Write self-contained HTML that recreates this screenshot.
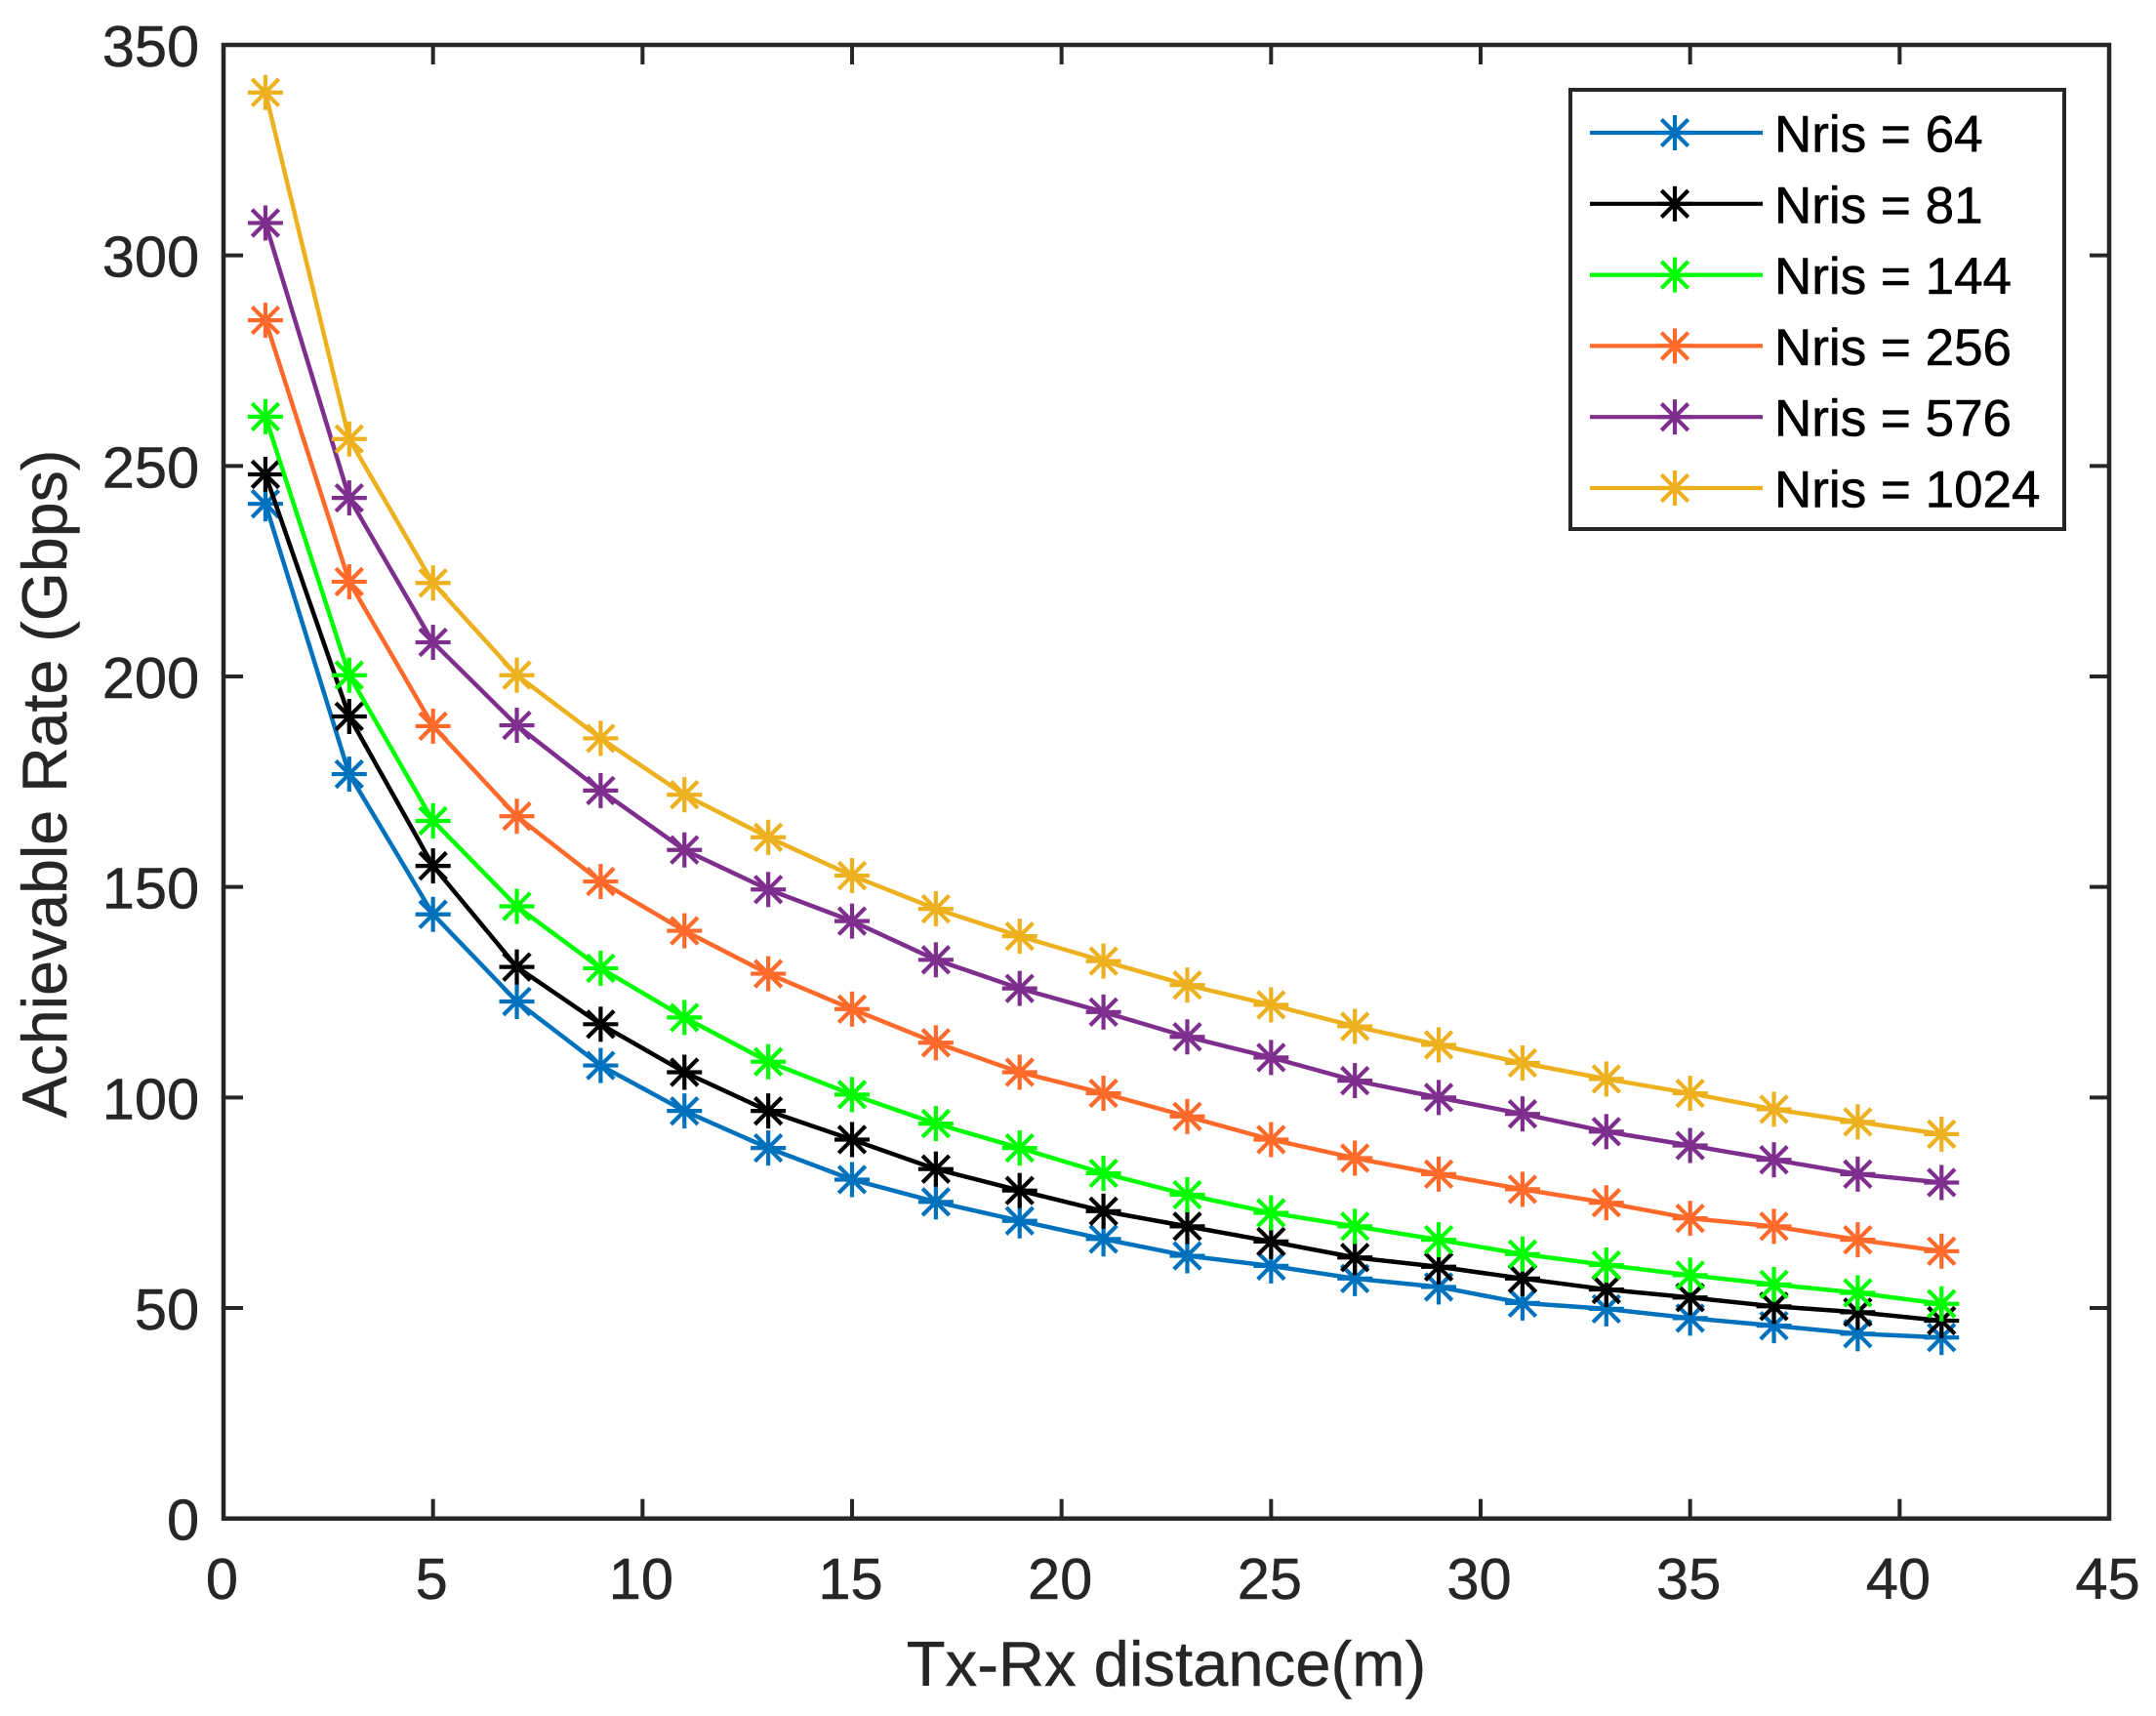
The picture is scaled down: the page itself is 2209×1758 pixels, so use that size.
<!DOCTYPE html>
<html lang="en">
<head>
<meta charset="utf-8">
<title>Achievable Rate vs Tx-Rx distance</title>
<style>
html,body{margin:0;padding:0;background:#fff;}
svg{display:block;font-family:"Liberation Sans",Arial,sans-serif;}
</style>
</head>
<body>
<svg id="chart" xmlns="http://www.w3.org/2000/svg" width="2209" height="1758" viewBox="0 0 2209 1758"></svg>
<script>
const distances = [1,3,5,7,9,11,13,15,17,19,21,23,25,27,29,31,33,35,37,39,41];
const nris64 = [241,176.8,143.5,122.8,107.6,96.8,88,80.5,75.2,70.7,66.4,62.4,60,57,55,51.2,49.8,47.6,45.8,43.9,43];
const nris81 = [248,190.5,155,131,117.4,106,96.8,90,83,77.9,73,69.4,65.8,62,59.8,57,54.4,52.5,50.4,49,47];
const nris144 = [261.7,200.3,165.7,145.4,130.7,119,108.5,100.7,93.8,88,82,76.9,72.6,69.4,66.2,62.8,60.2,57.8,55.6,53.6,51];
const nris256 = [284.6,222.5,188.2,166.8,151.3,139.6,129.4,121,113,106,101,95.5,90,85.6,81.8,78.2,75,71.3,69.4,66.2,63.5];
const nris576 = [307.7,242.4,208.1,188.4,172.9,158.8,149.4,141.9,132.7,125.9,120.3,114.4,109.5,104,100,96.1,91.9,88.6,85.2,81.8,79.8];
const nris1024 = [338.7,256.4,222.2,200.3,185.3,171.9,161.8,152.7,144.8,138.3,132.4,126.7,122,116.9,112.5,108.2,104.4,101,97.2,94.2,91.3];
const seriesLabels = ["Nris = 64","Nris = 81","Nris = 144","Nris = 256","Nris = 576","Nris = 1024"];
const seriesColors = ["#0072BD","#000000","#00FF00","#FF6A2B","#7E2F8E","#EDB120"];
const xTickValues = [0,5,10,15,20,25,30,35,40,45];
const yTickValues = [0,50,100,150,200,250,300,350];
const xAxisTitle = "Tx-Rx distance(m)";
const yAxisTitle = "Achievable Rate (Gbps)";

const allSeries = [nris64,nris81,nris144,nris256,nris576,nris1024];
const plot = {left:229,right:2161,top:46,bottom:1555.7};
const xMax = 45, yMax = 350;
const NS = "http://www.w3.org/2000/svg";
const svg = document.getElementById("chart");
const axisColor = "#262626";

function xScale(v){ return plot.left + (v/xMax)*(plot.right-plot.left); }
function yScale(v){ return plot.bottom - (v/yMax)*(plot.bottom-plot.top); }
function make(tag, attrs, parent){
  const el = document.createElementNS(NS, tag);
  for (const k in attrs) el.setAttribute(k, attrs[k]);
  (parent||svg).appendChild(el);
  return el;
}
function drawMarker(parent, cx, cy, color){
  const g = make("g", {stroke:color,"stroke-width":4.2,fill:"none"}, parent);
  make("line",{x1:cx-18,y1:cy,x2:cx+18,y2:cy},g);
  make("line",{x1:cx,y1:cy-18,x2:cx,y2:cy+18},g);
  make("line",{x1:cx-13.7,y1:cy-13.7,x2:cx+13.7,y2:cy+13.7},g);
  make("line",{x1:cx-13.7,y1:cy+13.7,x2:cx+13.7,y2:cy-13.7},g);
  return g;
}

// Axes ticks
const ticks = make("g",{stroke:axisColor,"stroke-width":4,fill:"none"});


xTickValues.forEach(function(v){
  const x = xScale(v);
  make("line",{x1:x,y1:plot.bottom,x2:x,y2:plot.bottom-20},ticks);
  make("line",{x1:x,y1:plot.top,x2:x,y2:plot.top+20},ticks);
});
yTickValues.forEach(function(v){
  const y = yScale(v);
  make("line",{x1:plot.left,y1:y,x2:plot.left+20,y2:y},ticks);
  make("line",{x1:plot.right,y1:y,x2:plot.right-20,y2:y},ticks);
});

// Series
allSeries.forEach(function(values, s){
  const g = make("g",{});
  
  
  const pts = values.map(function(v,i){ return xScale(distances[i]).toFixed(2)+","+yScale(v).toFixed(2); }).join(" ");
  const line = make("polyline",{points:pts,fill:"none",stroke:seriesColors[s],"stroke-width":4.5,"stroke-linejoin":"round"},g);
  
  
  values.forEach(function(v,i){
    const m = drawMarker(g, xScale(distances[i]), yScale(v), seriesColors[s]);
    
    
  });
});

// Plot frame
const frame = make("rect",{x:plot.left,y:plot.top,width:plot.right-plot.left,height:plot.bottom-plot.top,fill:"none",stroke:axisColor,"stroke-width":4.5});



// Tick labels
xTickValues.forEach(function(v){
  const t = make("text",{"text-anchor":"middle","font-size":59,fill:axisColor,stroke:axisColor,"stroke-width":0.5,transform:"translate("+(xScale(v)-1.5)+" 1638) scale(1.01 1)"});
  t.textContent = String(v);
  
  
});
yTickValues.forEach(function(v){
  const t = make("text",{"text-anchor":"end","font-size":59,fill:axisColor,stroke:axisColor,"stroke-width":0.5,transform:"translate(204.2 "+(yScale(v)+22)+") scale(1.01 1)"});
  t.textContent = String(v);
  
  
});

// Axis titles
const xTitle = make("text",{x:1195,y:1727,"text-anchor":"middle","font-size":65.2,fill:axisColor,stroke:axisColor,"stroke-width":0.4});
xTitle.textContent = xAxisTitle;


const yTitle = make("text",{x:0,y:0,"text-anchor":"middle","font-size":64.5,fill:axisColor,stroke:axisColor,"stroke-width":0.4,transform:"translate(68 803) rotate(-90)"});
yTitle.textContent = yAxisTitle;



// Legend
const legend = make("g",{});


const legendBox = make("rect",{x:1609,y:92,width:506,height:450,fill:"#fff",stroke:axisColor,"stroke-width":4},legend);


seriesLabels.forEach(function(label,s){
  const y = 136 + s*72.8;
  const row = make("g",{},legend);
  
  
  make("line",{x1:1629,y1:y,x2:1806,y2:y,stroke:seriesColors[s],"stroke-width":4.2},row);
  drawMarker(row,1716,y,seriesColors[s]);
  const t = make("text",{x:1818,y:y+19.5,"font-size":53,fill:"#000",stroke:"#000","stroke-width":0.6},row);
  t.textContent = label;
});
</script>
</body>
</html>
